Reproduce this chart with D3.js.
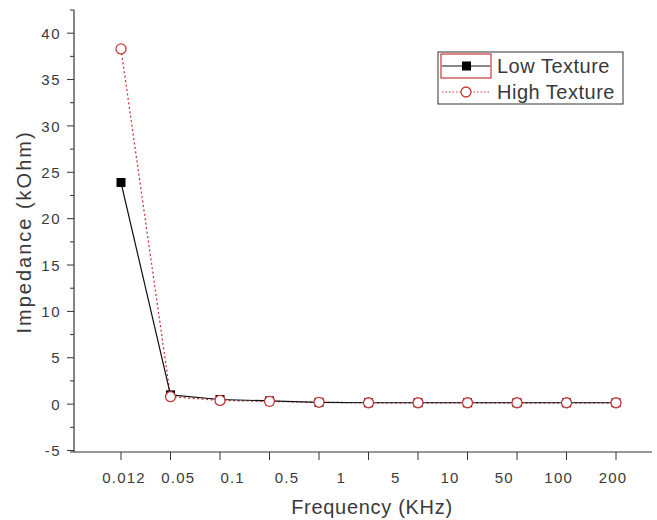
<!DOCTYPE html>
<html><head><meta charset="utf-8">
<script src="https://cdn.jsdelivr.net/npm/d3@7"></script>
<style>body{margin:0;background:#fff}svg{display:block}</style>
</head><body>
<script>
const tickSlots = ["p1","p2","p3","p4","p5","p6","p7","p8","p9","p10","p11"];
const freqLabels = ["0.012","0.05","0.1","0.5","1","5","10","50","100","200"];
const lowTexture  = [23.9, 1.0, 0.5, 0.35, 0.2, 0.15, 0.15, 0.15, 0.15, 0.15, 0.15];
const highTexture = [38.3, 0.8, 0.4, 0.3, 0.2, 0.15, 0.15, 0.15, 0.15, 0.15, 0.15];
const yTicks = [-5,0,5,10,15,20,25,30,35,40];

const W=657,H=520;
const svg=d3.select("body").append("svg").attr("width",W).attr("height",H);
const txt="#3a3a3a";
const red="#c8383a";
const FF="Liberation Sans, Arial, sans-serif";
const x=d3.scalePoint().domain(tickSlots).range([121,616]);
const xl=d3.scalePoint().domain(freqLabels).range([124,613]);
const y=d3.scaleLinear().domain([-5,42.5]).range([450.5,10]);
const axisX=74, axisY=452;

// y axis
svg.append("line").attr("x1",axisX).attr("x2",axisX).attr("y1",y(42.5)).attr("y2",axisY).attr("stroke","#333").attr("stroke-width",1.2);
const minor=d3.range(-2.5,43,5);
svg.selectAll(".ymin").data(minor).enter().append("line")
  .attr("x1",axisX-4).attr("x2",axisX).attr("y1",d=>y(d)).attr("y2",d=>y(d)).attr("stroke","#333");
svg.selectAll(".ymaj").data(yTicks).enter().append("line")
  .attr("x1",axisX-7).attr("x2",axisX).attr("y1",d=>y(d)).attr("y2",d=>y(d)).attr("stroke","#333");
svg.selectAll(".ylab").data(yTicks).enter().append("text")
  .attr("x",axisX-13).attr("y",d=>y(d)).attr("dy","0.38em").attr("text-anchor","end")
  .attr("font-family",FF).attr("font-size",15).attr("letter-spacing",1.5).attr("fill",txt).text(d=>d);

// x axis
svg.append("line").attr("x1",axisX-4).attr("x2",652).attr("y1",axisY).attr("y2",axisY).attr("stroke","#333").attr("stroke-width",1.2);
svg.selectAll(".xt").data(tickSlots).enter().append("line")
  .attr("x1",d=>x(d)).attr("x2",d=>x(d)).attr("y1",axisY).attr("y2",axisY+8).attr("stroke","#333");
svg.selectAll(".xlab").data(freqLabels).enter().append("text")
  .attr("x",d=>xl(d)).attr("y",483).attr("text-anchor","middle")
  .attr("font-family",FF).attr("font-size",15).attr("letter-spacing",1.2).attr("fill",txt).text(d=>d);

// titles
svg.append("text").attr("x",372).attr("y",514).attr("text-anchor","middle")
  .attr("font-family",FF).attr("font-size",20).attr("letter-spacing",0.7).attr("fill",txt).text("Frequency (KHz)");
svg.append("text").attr("transform","translate(31,232) rotate(-90)").attr("text-anchor","middle")
  .attr("font-family",FF).attr("font-size",20).attr("letter-spacing",2).attr("fill",txt).text("Impedance (kOhm)");

// series
const line=d3.line().x((d,i)=>x(tickSlots[i])).y(d=>y(d));
svg.append("path").datum(highTexture).attr("d",line).attr("fill","none").attr("stroke",red).attr("stroke-width",1.3).attr("stroke-dasharray","2,2.5");
svg.append("path").datum(lowTexture).attr("d",line).attr("fill","none").attr("stroke","#111").attr("stroke-width",1.2);
svg.selectAll(".sq").data(lowTexture).enter().append("rect")
  .attr("x",(d,i)=>x(tickSlots[i])-4.5).attr("y",d=>y(d)-4.5).attr("width",9).attr("height",9).attr("fill","#000");
svg.selectAll(".ci").data(highTexture).enter().append("circle")
  .attr("cx",(d,i)=>x(tickSlots[i])).attr("cy",d=>y(d)).attr("r",5).attr("fill","#fff").attr("stroke",red).attr("stroke-width",1.3);

// legend
const lg=svg.append("g");
lg.append("rect").attr("x",438).attr("y",52).attr("width",185).attr("height",52).attr("fill","#fff").attr("stroke","#333").attr("stroke-width",1);
lg.append("rect").attr("x",441).attr("y",54).attr("width",50).attr("height",24).attr("fill","none").attr("stroke",red).attr("stroke-width",1.2);
lg.append("line").attr("x1",442).attr("x2",490).attr("y1",66).attr("y2",66).attr("stroke","#111").attr("stroke-width",1.2);
lg.append("rect").attr("x",462).attr("y",61.5).attr("width",9).attr("height",9).attr("fill","#000");
lg.append("line").attr("x1",442).attr("x2",490).attr("y1",92).attr("y2",92).attr("stroke",red).attr("stroke-width",1.2).attr("stroke-dasharray","1.5,2");
lg.append("circle").attr("cx",466).attr("cy",92).attr("r",5).attr("fill","#fff").attr("stroke",red).attr("stroke-width",1.3);
const ln=["Low Texture","High Texture"];
lg.selectAll(".lt").data(ln).enter().append("text").attr("x",497).attr("y",(d,i)=>66+i*26).attr("dy","0.36em")
  .attr("font-family",FF).attr("font-size",20).attr("letter-spacing",0.5).attr("fill",txt).text(d=>d);
</script>
</body></html>
